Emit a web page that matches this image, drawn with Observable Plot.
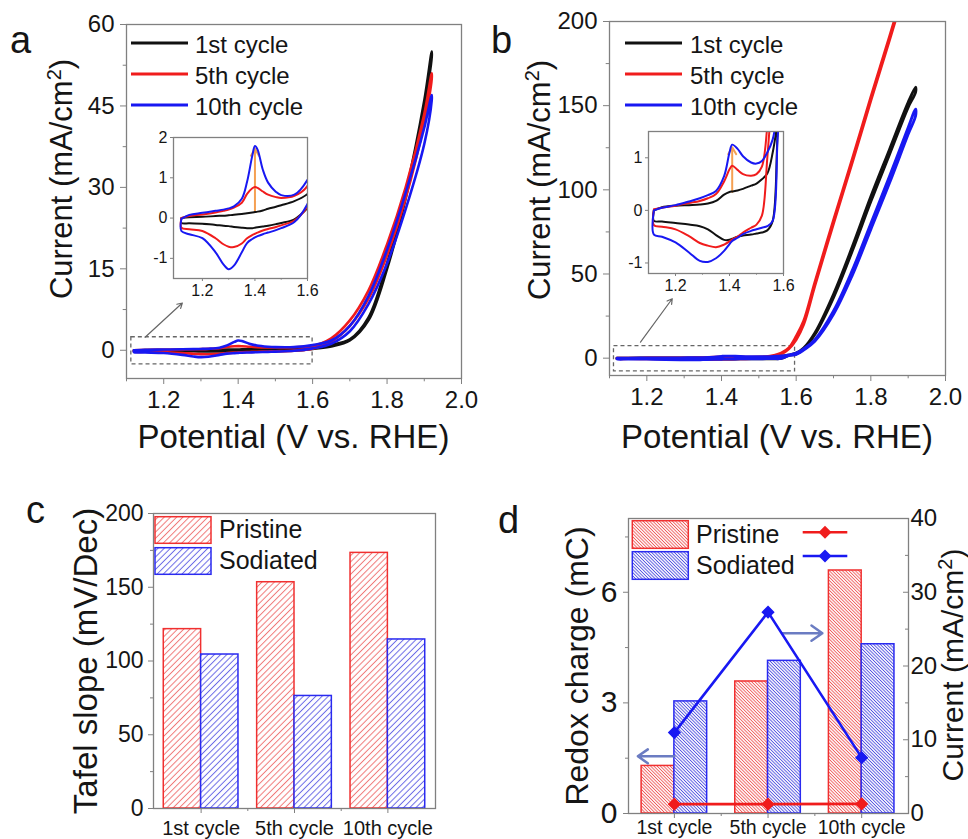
<!DOCTYPE html>
<html>
<head>
<meta charset="utf-8">
<script src="https://cdn.jsdelivr.net/npm/d3@7"></script>
<script src="https://cdn.jsdelivr.net/npm/@observablehq/plot@0.6"></script>
<style>
  body { margin: 0; background: #fff; }
  #fig { position: relative; width: 968px; height: 839px; overflow: hidden; background: #fff; }
</style>
</head>
<body>
<svg width="0" height="0" style="position:absolute;left:0;top:0">
  <defs>
    <pattern id="hRc" patternUnits="userSpaceOnUse" width="4.4" height="4.4" patternTransform="rotate(45)">
      <rect width="4.4" height="4.4" fill="#fff"/>
      <line x1="2.2" y1="0" x2="2.2" y2="4.4" stroke="#f07878" stroke-width="1"/>
    </pattern>
    <pattern id="hBc" patternUnits="userSpaceOnUse" width="4.4" height="4.4" patternTransform="rotate(45)">
      <rect width="4.4" height="4.4" fill="#fff"/>
      <line x1="2.2" y1="0" x2="2.2" y2="4.4" stroke="#6a6ae6" stroke-width="1"/>
    </pattern>
    <pattern id="hRd" patternUnits="userSpaceOnUse" width="2.3" height="2.3" patternTransform="rotate(-45)">
      <rect width="2.3" height="2.3" fill="#fff"/>
      <line x1="1.15" y1="0" x2="1.15" y2="2.3" stroke="#ef5a5a" stroke-width="0.9"/>
    </pattern>
    <pattern id="hBd" patternUnits="userSpaceOnUse" width="2.3" height="2.3" patternTransform="rotate(-45)">
      <rect width="2.3" height="2.3" fill="#fff"/>
      <line x1="1.15" y1="0" x2="1.15" y2="2.3" stroke="#5050e0" stroke-width="0.9"/>
    </pattern>
  </defs>
</svg>
<div id="fig"></div>
<script>
// ---------------- DATA ----------------
// Panel a (pristine) – potentials (V vs RHE) and currents (mA/cm2), forward / reverse sweeps
const E_A = [1.12, 1.15, 1.2, 1.25, 1.28, 1.3, 1.32, 1.35, 1.37, 1.39, 1.4, 1.41, 1.43, 1.45, 1.48, 1.5, 1.55, 1.6, 1.65, 1.7, 1.75, 1.8, 1.85, 1.9, 1.92];
const A1_FWD  = [0.0, 0.02, 0.03, 0.05, 0.06, 0.07, 0.08, 0.1, 0.12, 0.14, 0.15, 0.16, 0.19, 0.23, 0.28, 0.32, 0.42, 0.6, 1.0, 2.0, 6.0, 16, 29, 46, 55];
const A1_REV  = [-0.12, -0.13, -0.14, -0.17, -0.19, -0.2, -0.22, -0.24, -0.25, -0.25, -0.24, -0.23, -0.21, -0.19, -0.15, -0.12, -0.03, 0.25, 0.7, 1.8, 5.5, 15, 28, 45, 54];
const A5_FWD  = [0.0, 0.05, 0.09, 0.14, 0.18, 0.21, 0.26, 0.38, 0.6, 0.74, 0.77, 0.75, 0.66, 0.58, 0.52, 0.5, 0.55, 0.8, 2.2, 5.5, 11, 19.5, 30, 43.5, 51];
const A5_REV  = [-0.24, -0.28, -0.32, -0.5, -0.65, -0.71, -0.72, -0.63, -0.5, -0.42, -0.39, -0.36, -0.31, -0.27, -0.22, -0.18, -0.06, 0.3, 1.6, 4.5, 9.5, 17.5, 28, 42, 50];
const A10_FWD = [-0.02, 0.08, 0.13, 0.18, 0.21, 0.24, 0.29, 0.48, 0.9, 1.55, 1.79, 1.7, 1.2, 0.88, 0.65, 0.57, 0.58, 0.95, 1.8, 4.5, 10, 18.5, 29, 41, 47];
const A10_REV = [-0.32, -0.4, -0.5, -0.85, -1.15, -1.27, -1.18, -0.85, -0.62, -0.52, -0.48, -0.45, -0.4, -0.36, -0.3, -0.25, -0.1, 0.35, 1.2, 3.5, 8.5, 16, 26, 38, 46];

// Panel b (sodiated)
const E_B = [1.12, 1.15, 1.2, 1.25, 1.29, 1.32, 1.35, 1.38, 1.4, 1.41, 1.43, 1.45, 1.48, 1.5, 1.52, 1.54, 1.56, 1.58, 1.6, 1.62, 1.65, 1.7, 1.75, 1.8, 1.85, 1.9, 1.92];
const B1_FWD  = [0.0, 0.06, 0.09, 0.1, 0.11, 0.13, 0.18, 0.3, 0.35, 0.36, 0.38, 0.41, 0.47, 0.51, 0.59, 0.7, 1.1, 1.8, 3, 6, 15, 38, 66, 96, 124, 152, 161];
const B1_REV  = [-0.2, -0.21, -0.24, -0.27, -0.3, -0.36, -0.47, -0.56, -0.56, -0.54, -0.5, -0.48, -0.46, -0.44, -0.42, -0.38, -0.2, 1.6, 2.4, 5.5, 14, 36, 63.5, 93, 121, 149, 158];
const B5_FWD  = [0.02, 0.05, 0.09, 0.14, 0.18, 0.23, 0.31, 0.55, 0.78, 0.85, 0.77, 0.69, 0.66, 0.69, 0.83, 1.6, 3.0, 6, 13, 22, 45, 82, 118, 155, 191, 228, 243];
const B5_REV  = [-0.28, -0.31, -0.36, -0.49, -0.62, -0.67, -0.7, -0.65, -0.59, -0.55, -0.5, -0.42, -0.33, -0.27, -0.1, 1.0, 2.5, 5.5, 11, 20, 43, 80, 116, 153, 189, 226, 241];
const B10_FWD = [0.0, 0.05, 0.1, 0.17, 0.23, 0.29, 0.37, 0.65, 1.1, 1.25, 1.17, 1.03, 0.91, 0.89, 0.94, 1.1, 1.35, 2.0, 3.0, 5.5, 11, 28, 52, 80, 108, 137, 148];
const B10_REV = [-0.46, -0.5, -0.61, -0.8, -0.96, -0.98, -0.91, -0.77, -0.64, -0.58, -0.52, -0.45, -0.39, -0.36, -0.33, -0.3, -0.2, 1.5, 2.2, 4.8, 10, 26, 49, 76.5, 104, 133, 144];

// Annotations (data units)
const BOX_A = [{x1: 1.113, x2: 1.6, y1: -2.6, y2: 2.4}];
const ARROW_A = [{x1: 1.15, y1: 2.4, x2: 1.25, y2: 8.7}];
const PEAK_A = [{x: 1.4, y1: 0.15, y2: 1.72}];
const BOX_B = [{x1: 1.112, x2: 1.597, y1: -7.9, y2: 7.1}];
const ARROW_B = [{x1: 1.183, y1: 9.5, x2: 1.268, y2: 35.3}];
const PEAK_B = [{x: 1.41, y1: 0.35, y2: 1.2}];

// Panel c
const CYCLES = ["1st cycle", "5th cycle", "10th cycle"];
const TAFEL_PRISTINE = [121.6, 153.4, 173.3];
const TAFEL_SODIATED = [104.4, 76.3, 114.6];

// Panel d
const CHARGE_PRISTINE = [1.29, 3.58, 6.59];
const CHARGE_SODIATED = [3.04, 4.14, 4.59];
const CURRENT_PRISTINE = [1.27, 1.27, 1.3];
const CURRENT_SODIATED = [10.97, 27.3, 7.57];
const ARROWS_D = [{x1: 0.0, x2: -0.39, y: 1.55}, {x1: 1.155, x2: 1.58, y: 4.89}];

// Tick values
const CV_X_MAJOR = [1.2, 1.4, 1.6, 1.8, 2.0];
const CV_X_MINOR = [1.1, 1.3, 1.5, 1.7, 1.9];
const A_Y_MAJOR = [0, 15, 30, 45, 60];
const A_Y_MINOR = [7.5, 22.5, 37.5, 52.5];
const B_Y_MAJOR = [0, 50, 100, 150, 200];
const B_Y_MINOR = [25, 75, 125, 175];
const INSET_X = [1.2, 1.4, 1.6];
const INSET_X_MINOR = [1.3, 1.5];
const INSET_A_Y = [-1, 0, 1, 2];
const INSET_B_Y = [-1, 0, 1];
const C_Y_MAJOR = [0, 50, 100, 150, 200];
const C_Y_MINOR = [25, 75, 125, 175];
const D_Y_MAJOR = [0, 3, 6];
const D_Y_MINOR = [1.5, 4.5, 7.5];
const D_Y2_MAJOR = [0, 10, 20, 30, 40];
const D_Y2_MINOR = [5, 15, 25, 35];

// ---------------- STYLE ----------------
const FONT = '"Liberation Sans", Arial, Helvetica, sans-serif';
const GREY = "#808080";
const INK = "#151515";
const RED = "#f01c1c";
const BLUE = "#1818f2";
const BLACK = "#111111";
const fig = document.getElementById("fig");
const baseStyle = {fontFamily: FONT, background: "transparent", color: INK};

function place(el, left, top) {
  el.style.position = "absolute";
  el.style.left = left + "px";
  el.style.top = top + "px";
  fig.appendChild(el);
}

function loop(E, fwd, rev) {
  const pts = E.map((e, i) => ({E: e, I: fwd[i]}));
  for (let i = E.length - 1; i >= 0; i--) pts.push({E: E[i], I: rev[i]});
  pts.push(pts[0]);
  return pts;
}

function cvPlot(cfg) {
  const fmt = cfg.xFmt || d3.format(".1f");
  const marks = [
    Plot.axisX(cfg.xMajor, {tickSize: cfg.ts, tickPadding: cfg.tp, fontSize: cfg.fs, stroke: GREY, fill: INK, tickFormat: fmt, label: null}),
    Plot.axisY(cfg.yMajor, {tickSize: cfg.ts, tickPadding: cfg.tp, fontSize: cfg.fs, stroke: GREY, fill: INK, tickFormat: d => String(d), label: null})
  ];
  if (cfg.xMinor) marks.push(Plot.axisX(cfg.xMinor, {tickSize: cfg.ts * 0.55, tickFormat: () => "", stroke: GREY, label: null}));
  if (cfg.yMinor) marks.push(Plot.axisY(cfg.yMinor, {tickSize: cfg.ts * 0.55, tickFormat: () => "", stroke: GREY, label: null}));
  marks.push(...(cfg.extra || []));
  for (const s of cfg.series) {
    marks.push(Plot.line(loop(cfg.E, s.fwd, s.rev), {x: "E", y: "I", stroke: s.color, strokeWidth: cfg.sw, curve: "catmull-rom", clip: true}));
  }
  marks.push(...(cfg.top || []));
  marks.push(Plot.frame({stroke: GREY, strokeWidth: 1.3}));
  return Plot.plot({
    width: cfg.width, height: cfg.height,
    marginLeft: cfg.m[0], marginTop: cfg.m[1], marginRight: cfg.m[2], marginBottom: cfg.m[3],
    x: {domain: cfg.xDomain}, y: {domain: cfg.yDomain},
    style: baseStyle,
    marks
  });
}

const seriesA = [
  {fwd: A1_FWD, rev: A1_REV, color: BLACK},
  {fwd: A5_FWD, rev: A5_REV, color: RED},
  {fwd: A10_FWD, rev: A10_REV, color: BLUE}
];
const seriesB = [
  {fwd: B1_FWD, rev: B1_REV, color: BLACK},
  {fwd: B5_FWD, rev: B5_REV, color: RED},
  {fwd: B10_FWD, rev: B10_REV, color: BLUE}
];

// ---------------- PANEL a ----------------
place(cvPlot({
  E: E_A, series: seriesA, width: 480, height: 460, m: [126, 24, 19, 82],
  xDomain: [1.1, 2.0], yDomain: [-5.2, 60],
  xMajor: CV_X_MAJOR, xMinor: CV_X_MINOR, yMajor: A_Y_MAJOR, yMinor: A_Y_MINOR,
  ts: 6, tp: 6, fs: 24, sw: 2.6,
  extra: [
    Plot.rect(BOX_A, {x1: "x1", x2: "x2", y1: "y1", y2: "y2", fill: "none", stroke: "#666", strokeWidth: 1.3, strokeDasharray: "4,3"}),
    Plot.arrow(ARROW_A, {x1: "x1", y1: "y1", x2: "x2", y2: "y2", stroke: "#666", strokeWidth: 1.2, headLength: 7})
  ]
}), 0, 0);

place(cvPlot({
  E: E_A, series: seriesA, width: 186, height: 175, m: [33, 7, 19, 27],
  xDomain: [1.09, 1.6], yDomain: [-1.5, 2],
  xMajor: INSET_X, xMinor: INSET_X_MINOR, yMajor: INSET_A_Y,
  ts: 3, tp: 3, fs: 16, sw: 2,
  extra: [
    Plot.arrow(PEAK_A, {x1: "x", x2: "x", y1: "y1", y2: "y2", stroke: "#f5a052", strokeWidth: 2, headLength: 6})
  ]
}), 140, 130);

// ---------------- PANEL b ----------------
place(cvPlot({
  E: E_B, series: seriesB, width: 488, height: 460, m: [129, 21, 23, 85],
  xDomain: [1.1, 2.0], yDomain: [-10.3, 200],
  xMajor: CV_X_MAJOR, xMinor: CV_X_MINOR, yMajor: B_Y_MAJOR, yMinor: B_Y_MINOR,
  ts: 6, tp: 6, fs: 24, sw: 2.8,
  extra: [
    Plot.rect(BOX_B, {x1: "x1", x2: "x2", y1: "y1", y2: "y2", fill: "none", stroke: "#666", strokeWidth: 1.3, strokeDasharray: "4,3"}),
    Plot.arrow(ARROW_B, {x1: "x1", y1: "y1", x2: "x2", y2: "y2", stroke: "#666", strokeWidth: 1.2, headLength: 7})
  ]
}), 480, 0);

place(cvPlot({
  E: E_B, series: seriesB, width: 186, height: 176, m: [33, 7, 18, 27],
  xDomain: [1.1, 1.6], yDomain: [-1.2, 1.5],
  xMajor: INSET_X, xMinor: INSET_X_MINOR, yMajor: INSET_B_Y,
  ts: 3, tp: 3, fs: 16, sw: 2,
  extra: [
    Plot.arrow(PEAK_B, {x1: "x", x2: "x", y1: "y1", y2: "y2", stroke: "#f5a052", strokeWidth: 2, headLength: 6})
  ]
}), 615, 124);

// ---------------- PANEL c ----------------
const BW_C = 0.4;
const rowsC = CYCLES.map((c, i) => ({i, p: TAFEL_PRISTINE[i], s: TAFEL_SODIATED[i]}));
place(Plot.plot({
  width: 480, height: 359,
  marginLeft: 153, marginTop: 33, marginRight: 45, marginBottom: 31,
  x: {domain: [-0.51, 2.51]}, y: {domain: [0, 200]},
  style: baseStyle,
  marks: [
    Plot.axisX([0, 1, 2], {tickSize: 5, tickPadding: 7, fontSize: 20, stroke: GREY, fill: INK, tickFormat: i => CYCLES[i], label: null}),
    Plot.axisX([0.5, 1.5], {tickSize: 3, tickFormat: () => "", stroke: GREY, label: null}),
    Plot.axisY(C_Y_MAJOR, {tickSize: 5, tickPadding: 5, fontSize: 23, stroke: GREY, fill: INK, label: null}),
    Plot.axisY(C_Y_MINOR, {tickSize: 3, tickFormat: () => "", stroke: GREY, label: null}),
    Plot.rect(rowsC, {x1: d => d.i - BW_C, x2: d => d.i, y1: () => 0, y2: "p", fill: "url(#hRc)", stroke: "#f03030", strokeWidth: 1.5}),
    Plot.rect(rowsC, {x1: d => d.i, x2: d => d.i + BW_C, y1: () => 0, y2: "s", fill: "url(#hBc)", stroke: "#2a2af0", strokeWidth: 1.5}),
    Plot.frame({stroke: GREY, strokeWidth: 1.3})
  ]
}), 0, 480);

// ---------------- PANEL d ----------------
const BW_D = 0.35;
const rowsD = CYCLES.map((c, i) => ({i, p: CHARGE_PRISTINE[i], s: CHARGE_SODIATED[i], cp: CURRENT_PRISTINE[i], cs: CURRENT_SODIATED[i]}));
place(Plot.plot({
  width: 488, height: 359,
  marginLeft: 148, marginTop: 38, marginRight: 60, marginBottom: 26,
  x: {domain: [-0.49, 2.5]}, y: {domain: [0, 8]},
  style: baseStyle,
  marks: [
    Plot.axisX([0, 1, 2], {tickSize: 5, tickPadding: 2, fontSize: 19.5, stroke: GREY, fill: INK, tickFormat: i => CYCLES[i], label: null}),
    Plot.axisX([0.5, 1.5], {tickSize: 3, tickFormat: () => "", stroke: GREY, label: null}),
    Plot.axisY(D_Y_MAJOR, {tickSize: 5, tickPadding: 6, fontSize: 30, stroke: GREY, fill: INK, label: null}),
    Plot.axisY(D_Y_MINOR, {tickSize: 3, tickFormat: () => "", stroke: GREY, label: null}),
    Plot.rect(rowsD, {x1: d => d.i - BW_D, x2: d => d.i, y1: () => 0, y2: "p", fill: "url(#hRd)", stroke: "#f03030", strokeWidth: 1.5}),
    Plot.rect(rowsD, {x1: d => d.i, x2: d => d.i + BW_D, y1: () => 0, y2: "s", fill: "url(#hBd)", stroke: "#2a2af0", strokeWidth: 1.5}),
    Plot.arrow(ARROWS_D, {x1: "x1", x2: "x2", y1: "y", y2: "y", stroke: "#6b7cc2", strokeWidth: 2.5, headLength: 9, headAngle: 70}),
    Plot.frame({stroke: GREY, strokeWidth: 1.3})
  ]
}), 480, 480);

// right-axis overlay for currents
place(Plot.plot({
  width: 488, height: 359,
  marginLeft: 148, marginTop: 38, marginRight: 60, marginBottom: 26,
  x: {domain: [-0.49, 2.5], axis: null}, y: {domain: [0, 40]},
  style: baseStyle,
  marks: [
    Plot.axisY(D_Y2_MAJOR, {anchor: "right", tickSize: -6, tickPadding: 8, fontSize: 24, stroke: GREY, fill: INK, label: null}),
    Plot.axisY(D_Y2_MINOR, {anchor: "right", tickSize: -4, tickFormat: () => "", stroke: GREY, label: null}),
    Plot.line(rowsD, {x: "i", y: "cp", stroke: RED, strokeWidth: 2.6}),
    Plot.dot(rowsD, {x: "i", y: "cp", symbol: "diamond2", r: 5, fill: RED, stroke: RED}),
    Plot.line(rowsD, {x: "i", y: "cs", stroke: BLUE, strokeWidth: 2.6}),
    Plot.dot(rowsD, {x: "i", y: "cs", symbol: "diamond2", r: 5, fill: BLUE, stroke: BLUE})
  ]
}), 480, 480);

// ---------------- TEXT / LEGENDS ----------------
const sup = '<tspan font-size="20" baseline-shift="super">2</tspan>';
function cvLegend(x0, x1, tx) {
  const rows = [["1st cycle", BLACK, 43], ["5th cycle", RED, 74], ["10th cycle", BLUE, 105]];
  return rows.map(([t, c, y]) =>
    `<line x1="${x0}" x2="${x1}" y1="${y}" y2="${y}" stroke="${c}" stroke-width="3"/>` +
    `<text x="${tx}" y="${y + 9.5}" font-size="24">${t}</text>`).join("");
}
function diamond(cx, cy, r, c) {
  return `<polygon points="${cx},${cy - r} ${cx + r},${cy} ${cx},${cy + r} ${cx - r},${cy}" fill="${c}"/>`;
}
const ann = `
<svg xmlns="http://www.w3.org/2000/svg" width="968" height="839" font-family="Liberation Sans, Arial, sans-serif" fill="${INK}">
  <text x="10" y="53" font-size="38">a</text>
  <text x="491" y="53" font-size="38">b</text>
  <text x="26" y="523" font-size="38">c</text>
  <text x="498" y="533" font-size="38">d</text>

  <text transform="translate(72,179) rotate(-90)" text-anchor="middle" font-size="31">Current (mA/cm${sup})</text>
  <text x="293.5" y="448" text-anchor="middle" font-size="33">Potential (V vs. RHE)</text>
  <text transform="translate(550,180) rotate(-90)" text-anchor="middle" font-size="31">Current (mA/cm${sup})</text>
  <text x="777" y="448" text-anchor="middle" font-size="33">Potential (V vs. RHE)</text>
  <text transform="translate(97,661) rotate(-90)" text-anchor="middle" font-size="33">Tafel slope (mV/Dec)</text>
  <text transform="translate(588,666) rotate(-90)" text-anchor="middle" font-size="32">Redox charge (mC)</text>
  <text transform="translate(963,665) rotate(-90)" text-anchor="middle" font-size="30">Current (mA/cm${sup})</text>

  ${cvLegend(131, 188, 195)}
  ${cvLegend(625, 682, 690)}

  <rect x="155" y="516.7" width="56" height="26.6" fill="url(#hRc)" stroke="#f03030" stroke-width="1.5"/>
  <rect x="155" y="547.7" width="56" height="26.6" fill="url(#hBc)" stroke="#2a2af0" stroke-width="1.5"/>
  <text x="219" y="538.3" font-size="25">Pristine</text>
  <text x="219" y="569.3" font-size="25">Sodiated</text>

  <rect x="632.3" y="520.7" width="56" height="27.6" fill="url(#hRd)" stroke="#f03030" stroke-width="1.5"/>
  <rect x="632.3" y="551.7" width="56" height="27.6" fill="url(#hBd)" stroke="#2a2af0" stroke-width="1.5"/>
  <text x="696" y="543.3" font-size="25">Pristine</text>
  <text x="696" y="574" font-size="25">Sodiated</text>
  <line x1="802.7" x2="847.3" y1="532.3" y2="532.3" stroke="${RED}" stroke-width="2.6"/>
  ${diamond(825, 532.3, 6.5, RED)}
  <line x1="802.7" x2="847.3" y1="556" y2="556" stroke="${BLUE}" stroke-width="2.6"/>
  ${diamond(825, 556, 6.5, BLUE)}
</svg>`;
const holder = document.createElement("div");
holder.innerHTML = ann.trim();
place(holder.firstChild, 0, 0);
</script>
</body>
</html>
